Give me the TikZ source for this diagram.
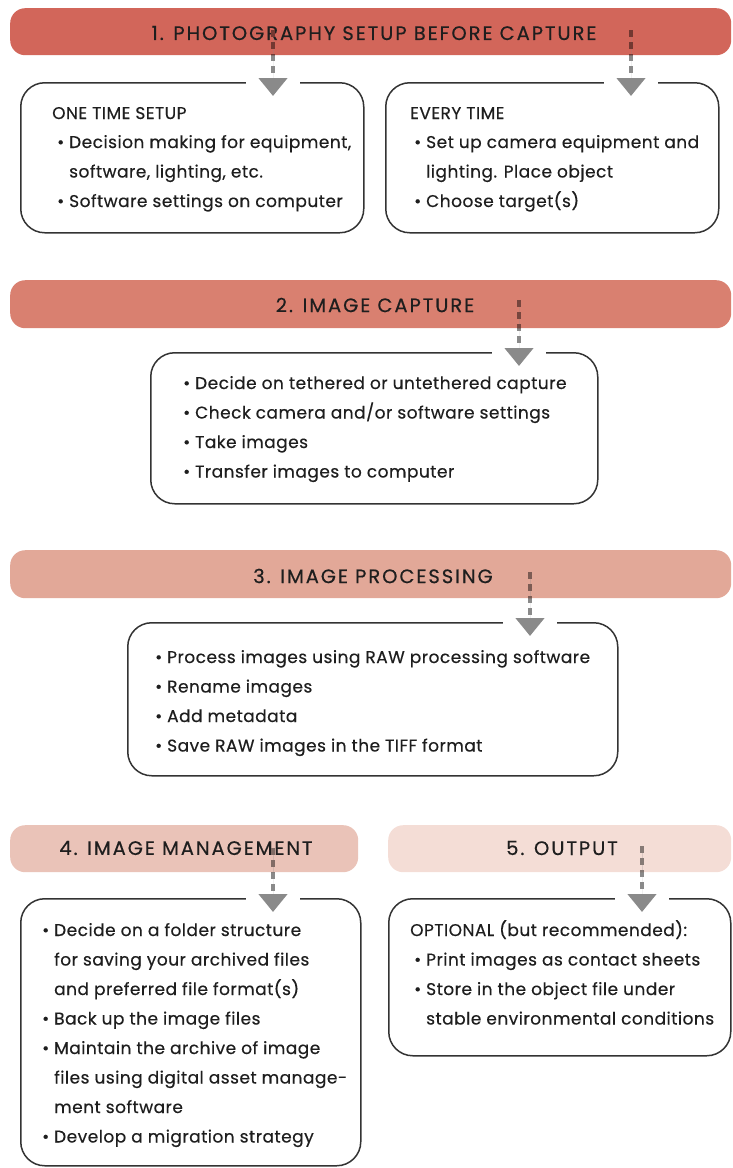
\documentclass[tikz,border=0pt]{standalone}
\usepackage{fontspec}
\setmainfont{Poppins}[FakeBold=0.4]
\usetikzlibrary{arrows.meta}
\definecolor{bA}{HTML}{D2665A}
\definecolor{bB}{HTML}{D98070}
\definecolor{bC}{HTML}{E2A898}
\definecolor{bD}{HTML}{EAC3B8}
\definecolor{bE}{HTML}{F4DDD6}
\definecolor{txt}{HTML}{1E1E1E}
\definecolor{boxc}{HTML}{333333}
\definecolor{arrowc}{HTML}{8A8A8A}
\newcommand\bl[1]{\makebox[12pt][l]{\textbullet}#1}
\newcommand\cl[1]{\hspace*{12pt}#1}
\newcommand\textlines[4]{%
  \foreach \t [count=\i] in {#4} {\node[body] (#1-\i) at (#2, {#3+29.5*(\i-1)}) {\t};}}
\newcommand\flowarrow[5]{% name, x, y, banner, box
  \coordinate (#1) at (#2,#3);
  \coordinate (#1e) at (#1 |- #5.north);
  \fill[white] ([xshift=-27pt,yshift=3pt]#1e) rectangle ([xshift=27pt,yshift=-3pt]#1e);
  \draw[shaft,-{Triangle[length=18pt,width=28pt]}] (#1) -- ([yshift=-14pt]#1e);
  \begin{scope}
    \clip[rounded corners=15pt] (#4.north west) rectangle (#4.south east);
    \draw[shaft,draw=black!45!#4col] (#1) -- ([yshift=-14pt]#1e);
  \end{scope}}
\begin{document}
\begin{tikzpicture}[x=1pt,y=-1pt,
  banner/.style={rounded corners=15pt, inner sep=0pt, anchor=north west},
  box/.style={draw=boxc, line width=1.5pt, rounded corners=24pt, fill=white, anchor=north west, inner sep=0pt},
  body/.style={anchor=base west, inner sep=0pt, font=\fontsize{17}{20}\selectfont\addfontfeature{LetterSpace=2.8}, text=txt},
  htext/.style={inner sep=0pt, font=\fontsize{19.5}{23}\selectfont\addfontfeature{LetterSpace=10}, text=txt},
  shaft/.style={draw=arrowc, fill=arrowc, line width=4.5pt, dash pattern=on 7pt off 5pt}]
\useasboundingbox (0,0) rectangle (732,1168);
\colorlet{ban1col}{bA}\colorlet{ban2col}{bB}\colorlet{ban3col}{bC}\colorlet{ban4col}{bD}\colorlet{ban5col}{bE}
% banners
\node[banner, fill=bA, minimum width=721pt, minimum height=47pt] (ban1) at (10,8) {};
\node[htext] (h1) at (374,33) {1. PHOTOGRAPHY SETUP BEFORE CAPTURE};
\node[banner, fill=bB, minimum width=721pt, minimum height=48pt] (ban2) at (10,280) {};
\node[htext] (h2) at (375,305) {2. IMAGE CAPTURE};
\node[banner, fill=bC, minimum width=721pt, minimum height=48pt] (ban3) at (10,550) {};
\node[htext] (h3) at (373,576) {3. IMAGE PROCESSING};
\node[banner, fill=bD, minimum width=348pt, minimum height=47pt] (ban4) at (10,825) {};
\node[htext] (h4) at (186,848) {4. IMAGE MANAGEMENT};
\node[banner, fill=bE, minimum width=343pt, minimum height=47pt] (ban5) at (388,825) {};
\node[htext] (h5) at (562,848) {5. OUTPUT};
% boxes
\node[box, minimum width=343pt, minimum height=150pt] (box1l) at (20,82) {};
\node[box, minimum width=333pt, minimum height=150pt] (box1r) at (385,82) {};
\node[box, minimum width=447pt, minimum height=151pt] (box2) at (150,352) {};
\node[box, minimum width=490pt, minimum height=153pt] (box3) at (127,622) {};
\node[box, minimum width=340pt, minimum height=267pt] (box4) at (20,898) {};
\node[box, minimum width=342pt, minimum height=157pt] (box5) at (388,898) {};
% arrows
\flowarrow{a1}{273}{30}{ban1}{box1l}
\flowarrow{a2}{631}{30}{ban1}{box1r}
\flowarrow{a3}{519}{300}{ban2}{box2}
\flowarrow{a4}{530}{572}{ban3}{box3}
\flowarrow{a5}{273}{848}{ban4}{box4}
\flowarrow{a6}{642}{846}{ban5}{box5}
% texts
\node[body] (t1h) at (52,119) {ONE TIME SETUP};
\textlines{t1}{57}{148}{{\bl{Decision making for equipment,}},{\cl{software, lighting, etc.}},{\bl{Software settings on computer}}}
\node[body] (t2h) at (410,119) {EVERY TIME};
\textlines{t2}{414}{148}{{\bl{Set up camera equipment and}},{\cl{lighting. Place object}},{\bl{Choose target(s)}}}
\textlines{t3}{183}{389}{{\bl{Decide on tethered or untethered capture}},{\bl{Check camera and/or software settings}},{\bl{Take images}},{\bl{Transfer images to computer}}}
\textlines{t4}{155}{663}{{\bl{Process images using RAW processing software}},{\bl{Rename images}},{\bl{Add metadata}},{\bl{Save RAW images in the TIFF format}}}
\textlines{t5}{42}{936}{{\bl{Decide on a folder structure}},{\cl{for saving your archived files}},{\cl{and preferred file format(s)}},{\bl{Back up the image files}},{\bl{Maintain the archive of image}},{\cl{files using digital asset manage-}},{\cl{ment software}},{\bl{Develop a migration strategy}}}
\node[body] (t6h) at (410,936) {OPTIONAL (but recommended):};
\textlines{t6}{414}{965.5}{{\bl{Print images as contact sheets}},{\bl{Store in the object file under}},{\cl{stable environmental conditions}}}
\end{tikzpicture}
\end{document}
